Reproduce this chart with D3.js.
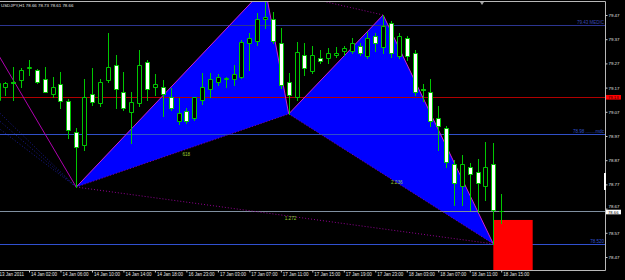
<!DOCTYPE html>
<html>
<head>
<meta charset="UTF-8" />
<script src="https://cdnjs.cloudflare.com/ajax/libs/d3/7.8.5/d3.min.js"></script>
<style>
  body { margin: 0; background: #000; }
  text { font-family: "Liberation Sans", Arial, sans-serif; }
  .axis path.domain { stroke: none; }
  .axis line { stroke: #c8c8c8; }
  .axis text { fill: #e0e0e0; }
</style>
</head>
<body>
<svg id="chart" width="625" height="280"></svg>
<script>
// USDJPY H1, bar 0 = 14 Jan 02:00, first bar on screen = 13 Jan 22:00
const firstBar = -4;
const opens = [79.119, 79.173, 79.193, 79.201, 79.251, 79.243, 79.206, 79.144, 79.185, 79.115,
  78.987, 78.933, 79.144, 79.106, 79.201, 79.263, 79.152, 79.069, 79.106, 79.276,
  79.173, 79.173, 79.131, 79.032, 79.073, 79.044, 79.119, 79.164, 79.193, 79.206,
  79.206, 79.214, 79.354, 79.363, 79.454, 79.454, 79.354, 79.193, 79.131, 79.305,
  79.239, 79.292, 79.292, 79.305, 79.321, 79.321, 79.342, 79.301, 79.383, 79.338,
  79.437, 79.301, 79.375, 79.313, 79.164, 79.152, 79.044, 79.003, 78.854, 78.763,
  78.842, 78.821, 78.763, 78.854, 78.660];
const highs = [79.201, 79.193, 79.255, 79.251, 79.284, 79.247, 79.255, 79.214, 79.234, 79.123,
  79.003, 79.206, 79.251, 79.206, 79.396, 79.305, 79.234, 79.152, 79.325, 79.284,
  79.226, 79.201, 79.168, 79.127, 79.086, 79.123, 79.230, 79.230, 79.226, 79.214,
  79.263, 79.367, 79.396, 79.478, 79.582, 79.482, 79.416, 79.230, 79.358, 79.354,
  79.342, 79.325, 79.334, 79.338, 79.342, 79.375, 79.354, 79.400, 79.396, 79.470,
  79.445, 79.396, 79.383, 79.325, 79.185, 79.206, 79.094, 79.011, 78.871, 78.892,
  78.858, 78.875, 78.945, 78.941, 78.730];
const lows = [79.106, 79.139, 79.119, 79.173, 79.222, 79.189, 79.152, 79.131, 79.086, 78.962,
  78.759, 78.912, 79.098, 79.094, 79.193, 79.086, 79.077, 78.941, 79.094, 79.119,
  79.139, 79.053, 79.077, 79.020, 79.024, 79.036, 79.102, 79.131, 79.181, 79.173,
  79.181, 79.210, 79.243, 79.346, 79.416, 79.354, 79.168, 79.061, 79.119, 79.222,
  79.230, 79.272, 79.272, 79.296, 79.305, 79.313, 79.305, 79.292, 79.321, 79.313,
  79.296, 79.292, 79.284, 79.139, 79.115, 79.011, 78.912, 78.842, 78.685, 78.685,
  78.664, 78.656, 78.706, 78.524, 78.610];
const closes = [79.189, 79.189, 79.189, 79.243, 79.255, 79.193, 79.152, 79.173, 79.115, 78.995,
  78.925, 79.131, 79.111, 79.193, 79.255, 79.164, 79.086, 79.111, 79.263, 79.164,
  79.185, 79.144, 79.086, 79.065, 79.032, 79.131, 79.173, 79.206, 79.214, 79.210,
  79.226, 79.358, 79.375, 79.454, 79.462, 79.363, 79.181, 79.139, 79.317, 79.251,
  79.305, 79.280, 79.313, 79.313, 79.334, 79.354, 79.313, 79.375, 79.354, 79.425,
  79.313, 79.383, 79.301, 79.152, 79.160, 79.032, 79.011, 78.863, 78.776, 78.854,
  78.813, 78.776, 78.842, 78.664, 78.660];

// harmonic pattern (butterfly)
const patternNames = ["X", "A", "B", "C", "D"];
const patternBars = [6, 30, 33, 45, 59];
const patternPrices = [78.759, 79.582, 79.061, 79.470, 78.524];
const ratioLabels = ["618", "1.272", "2.236"];
const ratioLegs = [["X", "B"], ["X", "D"], ["B", "D"]];
const prevPivotBar = -10, prevPivotPrice = 79.643;
const fanPrices = [79.263, 79.208, 79.154];
const przBars = [59, 64], przPrices = [78.623, 78.40];

// horizontal lines
const levelPrices = [79.43, 79.13, 78.978, 78.66, 78.524];
const levelNames = ["79.43  MEDIC", "", "78.98 ........mdc", "", "78.520"];
const levelColors = ["#2c3590", "#b00000", "#3050c8", "#8090a0", "#3050d0"];

// axes
const priceTicks = [79.47, 79.37, 79.27, 79.17, 79.07, 78.97, 78.87, 78.77, 78.67, 78.57, 78.47];
const timeTicks = [-4, 0, 4, 8, 12, 16, 20, 24, 28, 32, 36, 40, 44, 48, 52, 56, 60];
const timeLabels = ["13 Jan 2011", "14 Jan 02:00", "14 Jan 06:00", "14 Jan 10:00", "14 Jan 14:00",
  "14 Jan 18:00", "16 Jan 23:00", "17 Jan 03:00", "17 Jan 07:00", "17 Jan 11:00", "17 Jan 15:00",
  "17 Jan 19:00", "17 Jan 23:00", "18 Jan 03:00", "18 Jan 07:00", "18 Jan 11:00", "18 Jan 15:00"];
const header = "USDJPY,H1 78.66 78.73 78.61 78.66";
const bidPrice = 78.66, askMarkPrice = 79.13;

const W = 625, H = 280, plotR = 605.5, plotT = 1.5, plotB = 270.5;
const x = d3.scaleLinear().domain([0, 60]).range([29, 501.2]);
const y = d3.scaleLinear().domain([79.47, 78.47]).range([15, 257]);

const svg = d3.select("#chart");
svg.append("rect").attr("width", W).attr("height", H).attr("fill", "#000");
svg.append("defs").append("clipPath").attr("id", "plot")
  .append("rect").attr("x", 0).attr("y", plotT).attr("width", plotR).attr("height", plotB - plotT);

const plot = svg.append("g").attr("clip-path", "url(#plot)");
const pt = name => {
  const i = patternNames.indexOf(name);
  return [x(patternBars[i]), y(patternPrices[i])];
};

// triangles XAB and BCD
[["X", "A", "B"], ["B", "C", "D"]].forEach(tri => {
  plot.append("path")
    .attr("d", d3.line()(tri.map(pt)) + "Z")
    .attr("fill", "#0000ff");
});

// fan lines into X
fanPrices.forEach(p => {
  plot.append("line")
    .attr("x1", x(prevPivotBar)).attr("y1", y(p))
    .attr("x2", pt("X")[0]).attr("y2", pt("X")[1])
    .attr("stroke", "#1a1a90").attr("stroke-dasharray", "1,2");
});

// horizontal levels
levelPrices.forEach((p, i) => {
  const yy = Math.round(y(p)) + 0.5;
  plot.append("line").attr("x1", 0).attr("x2", plotR).attr("y1", yy).attr("y2", yy)
    .attr("stroke", levelColors[i]);
});

// PRZ box
plot.append("rect")
  .attr("x", x(przBars[0])).attr("width", x(przBars[1]) - x(przBars[0]))
  .attr("y", y(przPrices[0])).attr("height", y(przPrices[1]) - y(przPrices[0]))
  .attr("fill", "#ff0000");

// pattern lines
plot.append("line")
  .attr("x1", x(prevPivotBar)).attr("y1", y(prevPivotPrice))
  .attr("x2", pt("X")[0]).attr("y2", pt("X")[1])
  .attr("stroke", "#b000b0");
[["X", "A"], ["A", "B"], ["B", "C"], ["C", "D"]].forEach(([a, b]) => {
  plot.append("line")
    .attr("x1", pt(a)[0]).attr("y1", pt(a)[1]).attr("x2", pt(b)[0]).attr("y2", pt(b)[1])
    .attr("stroke", "#d020d0");
});
[["A", "C"], ["X", "D"], ["X", "B"], ["B", "D"]].forEach(([a, b]) => {
  plot.append("line")
    .attr("x1", pt(a)[0]).attr("y1", pt(a)[1]).attr("x2", pt(b)[0]).attr("y2", pt(b)[1])
    .attr("stroke", "#900090").attr("stroke-dasharray", "1,2");
});

// candles
const bars = opens.map((o, i) => ({ k: i + firstBar, o, h: highs[i], l: lows[i], c: closes[i] }));
const candles = plot.append("g");
bars.forEach(d => {
  const cx = Math.round(x(d.k));
  candles.append("line")
    .attr("x1", cx + 0.5).attr("x2", cx + 0.5)
    .attr("y1", Math.round(y(d.h))).attr("y2", Math.round(y(d.l)) + 1)
    .attr("stroke", "#00c800");
  const t = Math.round(y(Math.max(d.o, d.c))), b = Math.round(y(Math.min(d.o, d.c)));
  candles.append("path")
    .attr("d", `M${cx - 1.5},${t + 0.5}H${cx + 2.5}V${b + 0.5}H${cx - 1.5}Z`)
    .attr("fill", d.c > d.o ? "#000" : "#fff")
    .attr("stroke", "#00c800");
});

// ratio labels
ratioLegs.forEach(([a, b], i) => {
  const m = [(pt(a)[0] + pt(b)[0]) / 2, (pt(a)[1] + pt(b)[1]) / 2];
  plot.append("text").attr("x", m[0]).attr("y", m[1] + 5)
    .attr("font-size", 4.6).attr("fill", "#9acd32").text(ratioLabels[i]);
});

// level descriptions
levelPrices.forEach((p, i) => {
  if (!levelNames[i]) return;
  plot.append("text").attr("x", plotR - 1.5).attr("y", Math.round(y(p)) - 1)
    .attr("text-anchor", "end").attr("font-size", 4.5).attr("fill", i === 0 ? "#3a48b0" : levelColors[i])
    .text(levelNames[i]);
});

// shift marker
svg.append("path").attr("d", "M480,2L484,2L482,5Z").attr("fill", "#a0a0a0");

// frame
svg.append("path")
  .attr("d", `M0,${plotT}H${plotR}V${plotB}H0`)
  .attr("fill", "none").attr("stroke", "#b8b8b8");

// price axis
const yAxis = svg.append("g").attr("class", "axis")
  .attr("transform", `translate(${plotR},0)`)
  .call(d3.axisRight(y).tickValues(priceTicks).tickFormat(d3.format(".2f")).tickSize(2).tickPadding(1));
yAxis.selectAll("text").attr("font-size", 4.4);
// the 78.67 label sits just above the bid box
yAxis.selectAll(".tick").filter(d => d === 78.67).select("text").attr("dy", "-0.2em");

// time axis
const xAxis = svg.append("g").attr("class", "axis")
  .attr("transform", `translate(0,${plotB})`)
  .call(d3.axisBottom(x).tickValues(timeTicks).tickFormat((d, i) => timeLabels[i]).tickSize(2).tickPadding(0.5));
xAxis.selectAll("text").attr("font-size", 4.5).attr("text-anchor", "start").attr("dx", 1.5);

// white marker on the price scale
svg.append("rect").attr("x", plotR - 1.5).attr("width", 2)
  .attr("y", y(78.817)).attr("height", y(78.747) - y(78.817)).attr("fill", "#fff");

// price boxes
[[askMarkPrice, "#ff0000", "#200000", 0], [bidPrice, "#ffffff", "#000000", 1]].forEach(([p, bg, fg, off]) => {
  const yy = y(p) + off;
  svg.append("rect").attr("x", plotR + 0.5).attr("y", yy - 2.3).attr("width", 15).attr("height", 4.6).attr("fill", bg);
  svg.append("text").attr("x", plotR + 2.5).attr("y", yy + 1.6).attr("font-size", 4.2).attr("fill", fg)
    .text(d3.format(".2f")(p));
});

// header
svg.append("text").attr("x", 1).attr("y", 7).attr("font-size", 4.4).attr("fill", "#e0e0e0").text(header);
</script>
</body>
</html>
